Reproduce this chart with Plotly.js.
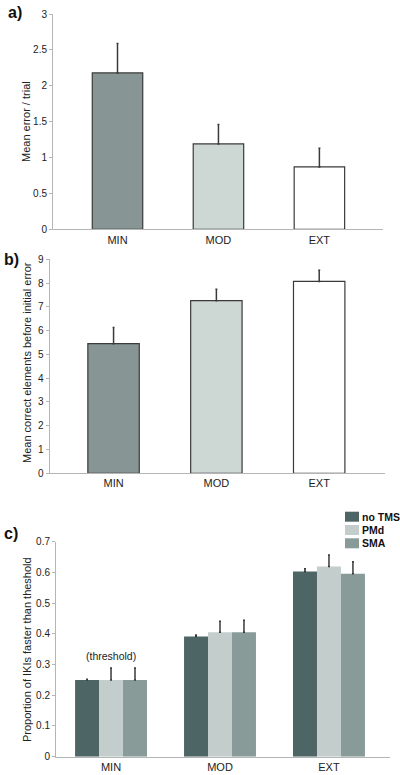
<!DOCTYPE html>
<html>
<head>
<meta charset="utf-8">
<script src="https://cdn.plot.ly/plotly-3.0.1.min.js"></script>
<style>html,body{margin:0;padding:0;background:#fff}#chart{width:400px;height:775px}</style>
</head>
<body>
<div id="chart"></div>
<script>
// ---- data ----
const categories = ["MIN", "MOD", "EXT"];
const errorPerTrial = [2.18, 1.19, 0.87];
const errorPerTrialSE = [0.41, 0.27, 0.26];
const correctBeforeError = [5.45, 7.26, 8.07];
const correctBeforeErrorSE = [0.68, 0.48, 0.47];
const seriesNames = ["no TMS", "PMd", "SMA"];
const propNoTMS = [0.25, 0.391, 0.603];
const propNoTMSSE = [0.002, 0.005, 0.009];
const propPMd = [0.25, 0.405, 0.619];
const propPMdSE = [0.039, 0.036, 0.038];
const propSMA = [0.25, 0.405, 0.596];
const propSMASE = [0.039, 0.039, 0.039];
const yTicksA = [0, 0.5, 1, 1.5, 2, 2.5, 3];
const yTicksB = [0, 1, 2, 3, 4, 5, 6, 7, 8, 9];
const yTicksC = [0, 0.1, 0.2, 0.3, 0.4, 0.5, 0.6, 0.7];
const titleA = "Mean error / trial";
const titleB = "Mean correct elements before initial error";
const titleC = "Proportion of IKIs faster than theshold";
const thresholdNote = "(threshold)";

// ---- styles ----
const W = 400, H = 775;
const catColors = ["#879694", "#cdd7d4", "#ffffff"];
const seriesColors = ["#4e6566", "#c3cecc", "#889b99"];
const font = "Liberation Sans, Arial, sans-serif";
const errStyle = {type: "data", visible: true, color: "#3a3a3a", thickness: 1.5, width: 1};
const px = v => v / W;
const py = v => 1 - v / H;

const traces = [
  {type: "bar", x: categories, y: errorPerTrial, xaxis: "x", yaxis: "y", width: 0.5,
   marker: {color: catColors, line: {color: "#3a3a3a", width: 1.2}},
   error_y: Object.assign({array: errorPerTrialSE, symmetric: false, arrayminus: [0,0,0]}, errStyle),
   showlegend: false, hoverinfo: "skip"},
  {type: "bar", x: categories, y: correctBeforeError, xaxis: "x2", yaxis: "y2", width: 0.5,
   marker: {color: catColors, line: {color: "#3a3a3a", width: 1.2}},
   error_y: Object.assign({array: correctBeforeErrorSE, symmetric: false, arrayminus: [0,0,0]}, errStyle),
   showlegend: false, hoverinfo: "skip"},
];
const cVals = [propNoTMS, propPMd, propSMA];
const cErr = [propNoTMSSE, propPMdSE, propSMASE];
for (let i = 0; i < 3; i++) {
  traces.push({type: "bar", name: seriesNames[i], x: categories, y: cVals[i], xaxis: "x3", yaxis: "y3",
    marker: {color: seriesColors[i], line: {width: 0}},
    error_y: Object.assign({array: cErr[i], symmetric: false, arrayminus: [0,0,0]}, errStyle),
    showlegend: false, hoverinfo: "skip"});
}

function yax(domain, range, ticks, anchor) {
  return {domain: domain, range: range, anchor: anchor, tickvals: ticks, ticktext: ticks.map(String),
    showline: true, linecolor: "#b5b5b5", linewidth: 1, ticks: "outside", ticklen: 3, tickcolor: "#b5b5b5",
    showgrid: false, zeroline: false, tickfont: {family: font, size: 10, color: "#222"}, fixedrange: true};
}
function xax(domain, range, anchor) {
  return {domain: domain, range: range, anchor: anchor, showline: true, linecolor: "#b5b5b5", linewidth: 1,
    ticks: "", showgrid: false, zeroline: false, type: "category",
    tickfont: {family: font, size: 11, color: "#222"}, fixedrange: true};
}

const annotations = [
  {text: "<b>a)</b>", x: px(6), y: py(13)},
  {text: "<b>b)</b>", x: px(2), y: py(259)},
  {text: "<b>c)</b>", x: px(2), y: py(533)}
].map(a => Object.assign(a, {xref: "paper", yref: "paper", xanchor: "left", yanchor: "middle",
  showarrow: false, font: {family: font, size: 16, color: "#111"}}));

[[titleA, 26, 122], [titleB, 27, 363], [titleC, 27, 650]].forEach(t => annotations.push({
  text: t[0], xref: "paper", yref: "paper", x: px(t[1]), y: py(t[2]), xanchor: "center", yanchor: "middle",
  textangle: -90, showarrow: false, borderpad: 0, font: {family: font, size: 11, color: "#222"}}));

annotations.push({text: thresholdNote, xref: "x3", yref: "y3", x: categories[0], y: 0.328, showarrow: false,
  font: {family: font, size: 10.5, color: "#222"}});

const shapes = [];
const legendRows = [516.7, 530, 543.3];
seriesNames.forEach((n, i) => {
  shapes.push({type: "rect", xref: "paper", yref: "paper", x0: px(345), x1: px(359),
    y0: py(legendRows[i] - 5), y1: py(legendRows[i] + 5), fillcolor: seriesColors[i], line: {width: 0}});
  annotations.push({text: "<b>" + n + "</b>", xref: "paper", yref: "paper", x: px(360.5), y: py(legendRows[i]),
    xanchor: "left", yanchor: "middle", showarrow: false, borderpad: 0,
    font: {family: font, size: 10.5, color: "#111"}});
});

const layout = {
  width: W, height: H, margin: {l: 0, r: 0, t: 0, b: 0},
  paper_bgcolor: "#fff", plot_bgcolor: "#fff", showlegend: false,
  barmode: "group", bargap: 0.34, bargroupgap: 0,
  xaxis: xax([53 / W, 383 / W], [-0.639, 2.63], "y"),
  yaxis: yax([0.7041, 0.9819], [0, 3], yTicksA, "x"),
  xaxis2: xax([49.5 / W, 385 / W], [-0.623, 2.64], "y2"),
  yaxis2: yax([0.3893, 0.6654], [0, 9], yTicksB, "x2"),
  xaxis3: xax([56 / W, 390 / W], [-0.505, 2.56], "y3"),
  yaxis3: yax([0.0236, 0.3010], [0, 0.7], yTicksC, "x3"),
  annotations: annotations,
  shapes: shapes
};

Plotly.newPlot("chart", traces, layout, {staticPlot: true, displayModeBar: false});
</script>
</body>
</html>
